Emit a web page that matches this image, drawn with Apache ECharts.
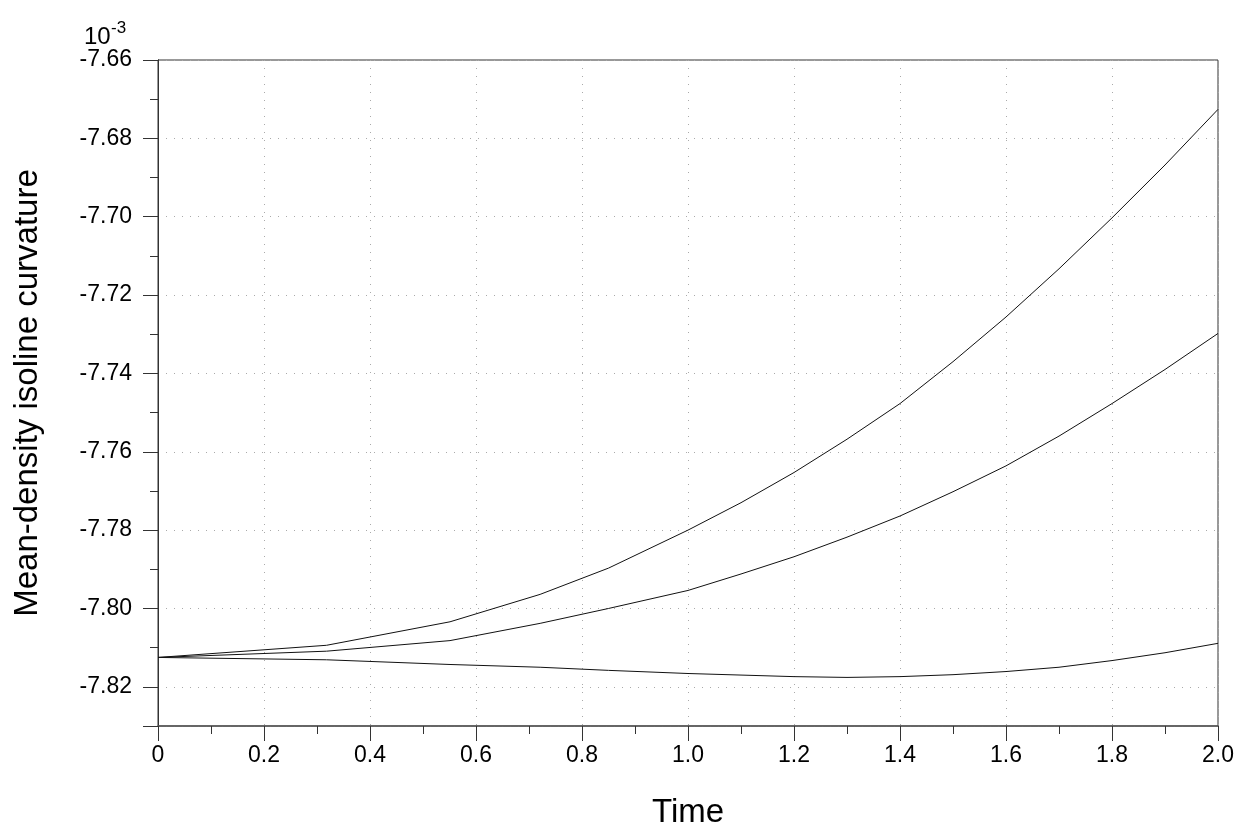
<!DOCTYPE html>
<html>
<head>
<meta charset="utf-8">
<script src="https://cdn.jsdelivr.net/npm/echarts@6/dist/echarts.min.js"></script>
<style>
html, body { margin: 0; padding: 0; background: #fff; }
#chart { width: 1250px; height: 834px; }
</style>
</head>
<body>
<div id="chart"></div>
<script>
// times and curvature values (units of 1e-3)
const times = [0, 0.318, 0.551, 0.721, 0.85, 1.0, 1.1, 1.2, 1.3, 1.4, 1.5, 1.6, 1.7, 1.8, 1.9, 2.0]
const curveA = [-7.8125, -7.8094, -7.8034, -7.7964, -7.7897, -7.7800, -7.7730, -7.7653, -7.7568, -7.7477, -7.7370, -7.7256, -7.7133, -7.7003, -7.6868, -7.6726]
const curveB = [-7.8125, -7.8109, -7.8082, -7.8038, -7.8000, -7.7954, -7.7912, -7.7868, -7.7818, -7.7764, -7.7702, -7.7636, -7.7560, -7.7477, -7.7390, -7.7298]
const curveC = [-7.8125, -7.8131, -7.8143, -7.8150, -7.8158, -7.8166, -7.8170, -7.8174, -7.8176, -7.8174, -7.8169, -7.8161, -7.8150, -7.8133, -7.8113, -7.8089]

const xTicks = [0, 0.2, 0.4, 0.6, 0.8, 1.0, 1.2, 1.4, 1.6, 1.8, 2.0]

// the y axis is drawn inverted on -value so ticks can start at 7.66
const toPoints = vals => vals.map((v, i) => [times[i], -v])

const font = 'Liberation Sans, Arial, sans-serif'
const chart = echarts.init(document.getElementById('chart'))

const lineSeries = (name, vals) => ({
    name: name,
    type: 'line',
    data: toPoints(vals),
    showSymbol: false,
    symbol: 'none',
    smooth: false,
    lineStyle: { color: '#111', width: 1 },
    yAxisIndex: 0
})

const yBase = {
    type: 'value',
    min: 7.66,
    max: 7.83,
    inverse: true,
    position: 'left',
    axisLine: { show: true, lineStyle: { color: '#333', width: 1 } }
}

chart.setOption({
    animation: false,
    backgroundColor: '#fff',
    grid: {
        left: 158, right: 32, top: 60, bottom: 107,
        show: true, borderColor: '#333', borderWidth: 1, backgroundColor: 'transparent'
    },
    xAxis: {
        type: 'value',
        min: 0,
        max: 2,
        interval: 0.2,
        name: 'Time',
        nameLocation: 'middle',
        nameGap: 70,
        nameTextStyle: { fontFamily: font, fontSize: 33, color: '#000' },
        axisLine: { show: true, lineStyle: { color: '#555', width: 1.5 } },
        axisTick: { show: true, inside: false, length: 15, lineStyle: { color: '#333' } },
        minorTick: { show: true, splitNumber: 2, length: 8, lineStyle: { color: '#333' } },
        axisLabel: {
            fontFamily: font, fontSize: 23, color: '#000', margin: 18,
            formatter: v => {
                const t = xTicks.find(x => Math.abs(x - v) < 1e-6)
                if (t === undefined) return ''
                return t === 0 ? '0' : t.toFixed(1)
            }
        },
        splitLine: { show: true, lineStyle: { color: '#aaa', type: [1, 7], width: 1 } }
    },
    yAxis: [
        Object.assign({}, yBase, {
            interval: 0.01,
            name: 'Mean-density isoline curvature',
            nameLocation: 'middle',
            nameGap: 114,
            nameRotate: 90,
            nameTextStyle: { fontFamily: font, fontSize: 33, color: '#000' },
            axisTick: { show: true, length: 8, lineStyle: { color: '#333' } },
            axisLabel: { show: false },
            splitLine: { show: false }
        }),
        Object.assign({}, yBase, {
            interval: 0.02,
            axisTick: { show: true, length: 15, lineStyle: { color: '#333' } },
            axisLabel: {
                fontFamily: font, fontSize: 23, color: '#000', margin: 26,
                formatter: v => {
                    const k = v * 50
                    if (Math.abs(k - Math.round(k)) > 1e-6) return ''
                    return '-' + v.toFixed(2)
                }
            },
            splitLine: { show: true, lineStyle: { color: '#aaa', type: [1, 7], width: 1 } }
        })
    ],
    // axis multiplier "10^-3" above the y axis
    graphic: [{
        type: 'text',
        left: 84,
        top: 25,
        style: { text: '10', fontFamily: font, fontSize: 24, fill: '#000' }
    }, {
        type: 'text',
        left: 111,
        top: 20,
        style: { text: '-3', fontFamily: font, fontSize: 17, fill: '#000' }
    }],
    series: [
        lineSeries('A', curveA),
        lineSeries('B', curveB),
        lineSeries('C', curveC)
    ]
})

window.addEventListener('resize', function () {
    chart.resize()
})
</script>
</body>
</html>
